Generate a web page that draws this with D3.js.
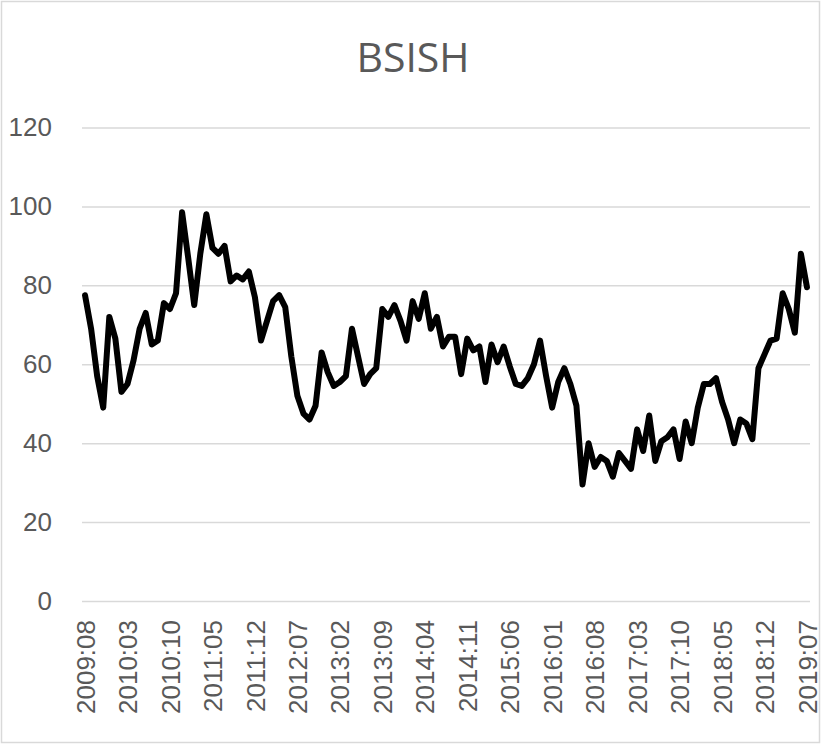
<!DOCTYPE html>
<html>
<head>
<meta charset="utf-8">
<script src="https://cdn.jsdelivr.net/npm/d3@7"></script>
<style>
  html, body { margin: 0; padding: 0; background: #fff; }
  svg { display: block; }
</style>
</head>
<body>
<svg id="chart" width="827" height="745"></svg>
<script>
// ---- data ----
const title = "BSISH";
const startYear = 2009, startMonth = 8, monthCount = 120;
const categories = [];
for (let k = 0; k < monthCount; k++) {
  const m = startMonth - 1 + k;
  const y = startYear + Math.floor(m / 12);
  const mm = (m % 12) + 1;
  categories.push(y + ":" + (mm < 10 ? "0" + mm : "" + mm));
}
const values = [
  77.5, 69, 57, 49, 72, 66.5, 53, 55, 61, 69,
  73, 65, 66, 75.5, 74, 78, 98.5, 87, 75, 88,
  98, 89.5, 88, 90, 81, 82.5, 81.5, 83.5, 77, 66,
  71, 76, 77.5, 74.5, 62, 52, 47.5, 46, 49.5, 63,
  58, 54.5, 55.5, 57, 69, 62, 55, 57.5, 59, 74,
  72, 75, 71, 66, 76, 71.5, 78, 69, 72, 64.5,
  67, 67, 57.5, 66.5, 63.5, 64.5, 55.5, 65, 60.5, 64.5,
  59.5, 55, 54.5, 56.5, 60, 66, 57, 49, 55.5, 59,
  55, 49.5, 29.5, 40, 34, 36.5, 35.5, 31.5, 37.5, 35.5,
  33.5, 43.5, 38, 47, 35.5, 40.5, 41.5, 43.5, 36, 45.5,
  40, 49, 55, 55, 56.5, 50.5, 46, 40, 46, 45,
  41, 59, 62.5, 66, 66.5, 78, 74, 68, 88, 79.5
];
const xTickLabels = ["2009:08","2010:03","2010:10","2011:05","2011:12","2012:07","2013:02","2013:09","2014:04","2014:11","2015:06","2016:01","2016:08","2017:03","2017:10","2018:05","2018:12","2019:07"];
const yTicks = [0, 20, 40, 60, 80, 100, 120];

// ---- layout ----
const svg = d3.select("#chart");
const plot = { left: 82, right: 810, top: 127.5, bottom: 601 };

const x = d3.scalePoint().domain(categories).range([plot.left, plot.right]).padding(0.5);
const y = d3.scaleLinear().domain([0, 120]).range([plot.bottom, plot.top]);

// outer border
svg.append("rect")
  .attr("x", 1.5).attr("y", 1.5).attr("width", 818).attr("height", 741)
  .attr("fill", "#fff").attr("stroke", "#d9d9d9").attr("stroke-width", 1.5);

// title
svg.append("text")
  .attr("x", 413).attr("y", 72)
  .attr("text-anchor", "middle")
  .attr("font-family", "'Open Sans', 'Liberation Sans', sans-serif")
  .attr("font-size", 41)
  .attr("fill", "#595959")
  .text(title);

// y axis (gridlines + labels)
const yAxis = d3.axisLeft(y).tickValues(yTicks).tickSize(-(plot.right - plot.left)).tickPadding(30);
const gy = svg.append("g").attr("transform", `translate(${plot.left},0)`).call(yAxis);
gy.select(".domain").remove();
gy.selectAll(".tick line").attr("stroke", "#d9d9d9").attr("stroke-width", 1.5);
gy.selectAll(".tick text")
  .attr("font-family", "'Liberation Sans', Arial, sans-serif")
  .attr("font-size", 26)
  .attr("fill", "#595959");

// x axis labels
const xAxis = d3.axisBottom(x).tickValues(xTickLabels).tickSize(0).tickPadding(0);
const gx = svg.append("g").attr("transform", `translate(0,${plot.bottom})`).call(xAxis);
gx.select(".domain").remove();
gx.selectAll(".tick text")
  .attr("font-family", "'Liberation Sans', Arial, sans-serif")
  .attr("font-size", 26)
  .attr("fill", "#595959")
  .attr("text-anchor", "end")
  .attr("transform", "translate(0,19) rotate(-90)")
  .attr("x", 0).attr("y", 0)
  .attr("dy", "0.35em");

// line
const line = d3.line()
  .x((d, i) => x(categories[i]))
  .y(d => y(d));
svg.append("path")
  .datum(values)
  .attr("d", line)
  .attr("fill", "none")
  .attr("stroke", "#000")
  .attr("stroke-width", 6)
  .attr("stroke-linejoin", "round")
  .attr("stroke-linecap", "round");
</script>
</body>
</html>
